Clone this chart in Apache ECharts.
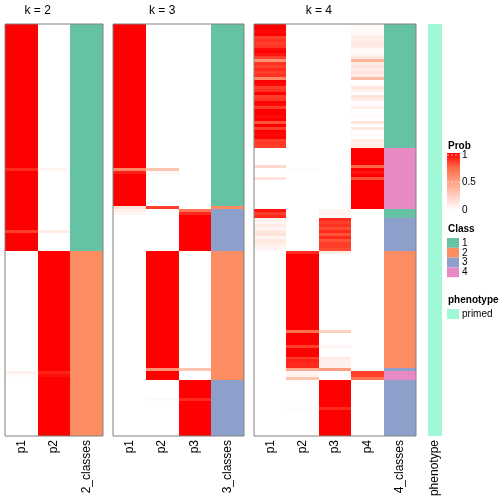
<!DOCTYPE html>
<html><head><meta charset="utf-8">
<script src="https://cdn.jsdelivr.net/npm/echarts@6/dist/echarts.min.js"></script>
<style>html,body{margin:0;padding:0;background:#fff}#c{width:504px;height:504px}</style>
</head><body><div id="c"></div><script>
// ---- data (rows top to bottom, 140 samples) ----
const k2Columns = ['p1', 'p2', '2_classes'];
const k3Columns = ['p1', 'p2', 'p3', '3_classes'];
const k4Columns = ['p1', 'p2', 'p3', 'p4', '4_classes'];
const phenoColumns = ['phenotype'];
const classLabels = ['1', '2', '3', '4'];
const probTicks = ['1', '0.5', '0'];

const k2_p1 = [
1,1,1,1,1,1,1,1,1,1,1,1,1,1,1,1,1,1,1,1,
1,1,1,1,1,1,1,1,1,1,1,1,1,1,1,1,1,1,1,1,
1,1,1,1,1,1,1,1,1,0.9,1,1,1,1,1,1,1,1,1,1,
1,1,1,1,1,1,1,1,1,1,0.85,1,1,1,1,1,1,0,0,0,
0,0,0,0,0,0,0,0,0,0,0,0,0,0,0,0,0,0,0,0,
0,0,0,0,0,0,0,0,0,0,0,0,0,0,0,0,0,0,0.06,0.03,
0,0,0,0,0,0,0,0,0,0,0,0,0,0,0,0,0,0,0,0];
const k2_p2 = [
0,0,0,0,0,0,0,0,0,0,0,0,0,0,0,0,0,0,0,0,
0,0,0,0,0,0,0,0,0,0,0,0,0,0,0,0,0,0,0,0,
0,0,0,0,0,0,0,0,0,0.05,0,0,0,0,0,0,0,0,0,0,
0,0,0,0,0,0,0,0,0,0,0.1,0,0,0,0,0,0,1,1,1,
1,1,1,1,1,1,1,1,1,1,1,1,1,1,1,1,1,1,1,1,
1,1,1,1,1,1,1,1,1,1,1,1,1,1,1,1,1,1,0.92,0.96,
1,1,1,1,1,1,1,1,1,1,1,1,1,1,1,1,1,1,1,1];
const k2_class = [
1,1,1,1,1,1,1,1,1,1,1,1,1,1,1,1,1,1,1,1,
1,1,1,1,1,1,1,1,1,1,1,1,1,1,1,1,1,1,1,1,
1,1,1,1,1,1,1,1,1,1,1,1,1,1,1,1,1,1,1,1,
1,1,1,1,1,1,1,1,1,1,1,1,1,1,1,1,1,2,2,2,
2,2,2,2,2,2,2,2,2,2,2,2,2,2,2,2,2,2,2,2,
2,2,2,2,2,2,2,2,2,2,2,2,2,2,2,2,2,2,2,2,
2,2,2,2,2,2,2,2,2,2,2,2,2,2,2,2,2,2,2,2];

const k3_p1 = [
1,1,1,1,1,1,1,1,1,1,1,1,1,1,1,1,1,1,1,1,
1,1,1,1,1,1,1,1,1,1,1,1,1,1,1,1,1,1,1,1,
1,1,1,1,1,1,1,1,1,0.6,0.92,1,1,1,1,1,1,1,1,1,
1,1,0.15,0.07,0.04,0,0,0,0,0,0,0,0,0,0,0,0,0,0,0,
0,0,0,0,0,0,0,0,0,0,0,0,0,0,0,0,0,0,0,0,
0,0,0,0,0,0,0,0,0,0,0,0,0,0,0,0,0,0,0,0,
0,0,0,0,0,0,0,0,0,0,0,0,0,0,0,0,0,0,0,0];
const k3_p2 = [
0,0,0,0,0,0,0,0,0,0,0,0,0,0,0,0,0,0,0,0,
0,0,0,0,0,0,0,0,0,0,0,0,0,0,0,0,0,0,0,0,
0,0,0,0,0,0,0,0,0,0.3,0.04,0,0,0,0,0,0,0,0,0,
0,0,0.85,0,0,0,0,0,0,0,0,0,0,0,0,0,0,1,1,1,
1,1,1,1,1,1,1,1,1,1,1,1,1,1,1,1,1,1,1,1,
1,1,1,1,1,1,1,1,1,1,1,1,1,1,1,1,1,0.55,1,1,
1,0,0,0,0,0,0,0.03,0,0,0,0,0,0,0,0,0,0,0,0];
const k3_p3 = [
0,0,0,0,0,0,0,0,0,0,0,0,0,0,0,0,0,0,0,0,
0,0,0,0,0,0,0,0,0,0,0,0,0,0,0,0,0,0,0,0,
0,0,0,0,0,0,0,0,0,0,0,0,0,0,0,0,0,0,0,0,
0,0,0,0.7,0.9,1,1,1,1,1,1,1,1,1,1,1,1,0,0,0,
0,0,0,0,0,0,0,0,0,0,0,0,0,0,0,0,0,0,0,0,
0,0,0,0,0,0,0,0,0,0,0,0,0,0,0,0,0,0.3,0,0,
0,1,1,1,1,1,1,0.9,1,1,1,1,1,1,1,1,1,1,1,1];
const k3_class = [
1,1,1,1,1,1,1,1,1,1,1,1,1,1,1,1,1,1,1,1,
1,1,1,1,1,1,1,1,1,1,1,1,1,1,1,1,1,1,1,1,
1,1,1,1,1,1,1,1,1,1,1,1,1,1,1,1,1,1,1,1,
1,1,2,3,3,3,3,3,3,3,3,3,3,3,3,3,3,2,2,2,
2,2,2,2,2,2,2,2,2,2,2,2,2,2,2,2,2,2,2,2,
2,2,2,2,2,2,2,2,2,2,2,2,2,2,2,2,2,2,2,2,
2,3,3,3,3,3,3,3,3,3,3,3,3,3,3,3,3,3,3,3];

const k4_p1 = [
1,1,0.98,1,0.85,0.88,0.85,0.87,0.97,1,0.95,0.85,0.55,0.88,0.85,0.9,0.85,0.88,0.6,1,
0.98,0.85,0.88,1,0.85,0.87,1,0.98,0.85,1,1,0.97,1,0.8,1,0.85,1,0.98,1,0.85,
0.87,0.85,0,0,0,0,0,0,0.2,0,0,0,0.15,0,0,0,0,0,0,0,
0,0,0,0.95,0.85,0.9,0.08,0.05,0.1,0.05,0.12,0.15,0.05,0.12,0.1,0.06,0.04,0,0,0,
0,0,0,0,0,0,0,0,0,0,0,0,0,0,0,0,0,0,0,0,
0,0,0,0,0,0,0,0,0,0,0,0,0,0,0,0,0,0,0,0,
0,0,0,0,0,0,0,0,0,0,0,0,0,0,0,0,0,0,0,0];
const k4_p2 = [
0,0,0,0,0,0,0,0,0,0,0,0,0,0,0,0,0,0,0,0,
0,0,0,0,0,0,0,0,0,0,0,0,0,0,0,0,0,0,0,0,
0,0,0,0,0,0,0,0,0,0.02,0,0,0,0,0,0,0,0,0,0,
0,0,0,0,0,0,0,0,0,0,0,0,0,0,0,0,0,0.9,1,1,
1,1,1,1,1,1,1,1,1,1,1,1,1,1,1,1,1,1,1,1,
1,1,1,1,0.7,1,1,1,1,0.85,1,1,1,0.85,0.92,0.9,0.9,0.45,0.05,0.08,
0.3,0,0,0,0,0,0,0,0,0,0.02,0,0,0,0,0,0,0,0,0];
const k4_p3 = [
0,0,0,0,0,0,0,0,0,0,0,0,0,0,0,0,0,0,0,0,
0,0,0,0,0,0,0,0,0,0,0,0,0,0,0,0,0,0,0,0,
0,0,0,0,0,0,0,0,0,0,0,0,0,0,0,0,0,0,0,0,
0,0,0,0.05,0.08,0.02,0.9,0.85,0.88,0.82,0.9,0.8,0.9,0.8,0.85,0.85,0.82,0.1,0,0,
0,0,0,0,0,0,0,0,0,0,0,0,0,0,0,0,0,0,0,0,
0,0,0,0,0.25,0,0,0,0,0.05,0,0,0,0.12,0.06,0.08,0.08,0.5,0,0,
0,1,1,1,1,1,1,1,1,1,0.9,1,1,1,1,1,1,1,1,1];
const k4_p4 = [
0.03,0.02,0.02,0.05,0.1,0.08,0.12,0.1,0.03,0.02,0.05,0.12,0.4,0.1,0.15,0.08,0.15,0.1,0.35,0,
0.02,0.12,0.08,0,0.15,0.1,0,0.02,0.08,0,0,0.03,0,0.15,0,0.12,0,0.02,0,0.1,
0.08,0.1,1,1,1,1,1,1,0.75,1,0.95,1,0.8,1,1,1,1,1,1,1,
1,1,1,0,0,0,0,0,0,0,0,0,0,0,0,0,0,0,0,0,
0,0,0,0,0,0,0,0,0,0,0,0,0,0,0,0,0,0,0,0,
0,0,0,0,0,0,0,0,0,0,0,0,0,0,0,0,0,0.03,0.85,0.85,
0.7,0,0,0,0,0,0,0,0,0,0,0,0,0,0,0,0,0,0,0];
const k4_class = [
1,1,1,1,1,1,1,1,1,1,1,1,1,1,1,1,1,1,1,1,
1,1,1,1,1,1,1,1,1,1,1,1,1,1,1,1,1,1,1,1,
1,1,4,4,4,4,4,4,4,4,4,4,4,4,4,4,4,4,4,4,
4,4,4,1,1,1,3,3,3,3,3,3,3,3,3,3,3,2,2,2,
2,2,2,2,2,2,2,2,2,2,2,2,2,2,2,2,2,2,2,2,
2,2,2,2,2,2,2,2,2,2,2,2,2,2,2,2,2,3,4,4,
4,3,3,3,3,3,3,3,3,3,3,3,3,3,3,3,3,3,3,3];
const phenotype = new Array(140).fill('primed');
const phenotypeLevels = ['primed'];

// ---- styles ----
const FONT = 'Liberation Sans, Arial, Helvetica, sans-serif';
const probColors = ['#FFFFFF', '#FFCFBF', '#FF9E81', '#FF6846', '#FF0000'];
const classColors = ['#66C2A5', '#FC8D62', '#8DA0CB', '#E78AC3'];
const phenoColors = ['#A0F8D6'];

const rows = k2_class.map((_, i) => String(i));
const panels = [
  { title: 'k = 2', cols: k2Columns, probs: [k2_p1, k2_p2], cls: k2_class, left: 5, width: 98 },
  { title: 'k = 3', cols: k3Columns, probs: [k3_p1, k3_p2, k3_p3], cls: k3_class, left: 113, width: 131 },
  { title: 'k = 4', cols: k4Columns, probs: [k4_p1, k4_p2, k4_p3, k4_p4], cls: k4_class, left: 254, width: 162 }
];
const TOP = 24, H = 412;

// cell renderer: snap cell edges to whole pixels so neighbouring cells meet without seams
function renderCell(params, api) {
  const c = api.coord([api.value(0), api.value(1)]);
  const s = api.size([1, 1]);
  const x0 = Math.round(c[0] - s[0] / 2), x1 = Math.round(c[0] + s[0] / 2);
  const y0 = Math.round(c[1] - s[1] / 2), y1 = Math.round(c[1] + s[1] / 2);
  return { type: 'rect', shape: { x: x0, y: y0, width: x1 - x0, height: y1 - y0 },
    style: { fill: api.visual('color') } };
}

const grid = [], xAxis = [], yAxis = [], series = [], graphic = [];
const probSeries = [], classSeries = [];
function addAxes(gi, cols) {
  xAxis.push({ type: 'category', gridIndex: gi, data: cols, position: 'bottom',
    axisLine: { show: false }, axisTick: { show: false }, splitLine: { show: false },
    axisLabel: { rotate: 90, interval: 0, margin: 4, fontSize: 12, color: '#000', fontFamily: FONT } });
  yAxis.push({ type: 'category', gridIndex: gi, data: rows, inverse: true, show: false });
}
function cellSeries(gi, data) {
  return { type: 'custom', xAxisIndex: gi, yAxisIndex: gi, data: data, silent: true,
    encode: { x: 0, y: 1 }, renderItem: renderCell };
}
panels.forEach((p, gi) => {
  grid.push({ left: p.left, top: TOP, width: p.width, height: H, show: true, z: 10,
    borderColor: '#808080', borderWidth: 1, backgroundColor: 'transparent' });
  addAxes(gi, p.cols);
  const pd = [];
  p.probs.forEach((arr, c) => arr.forEach((v, r) => pd.push([c, r, v])));
  probSeries.push(series.length);
  series.push(cellSeries(gi, pd));
  const cd = p.cls.map((v, r) => [p.probs.length, r, v]);
  classSeries.push(series.length);
  series.push(cellSeries(gi, cd));
  const cx = p.left + p.width * p.probs.length / p.cols.length / 2;
  graphic.push({ type: 'text', x: cx, y: 11, style: { text: p.title, font: '12px ' + FONT,
    fill: '#000', textAlign: 'center', textVerticalAlign: 'middle' } });
});
// phenotype column
grid.push({ left: 428, top: TOP, width: 14, height: H, show: false });
addAxes(3, phenoColumns);
const phenoSeriesIndex = series.length;
series.push(cellSeries(3, phenotype.map((v, r) => [0, r, phenotypeLevels.indexOf(v) + 1])));

// ---- legend (drawn as graphic) ----
const LX = 447;
graphic.push({ type: 'text', x: LX + 1, y: 146, style: { text: 'Prob', font: 'bold 10px ' + FONT, fill: '#000', textVerticalAlign: 'middle' } });
graphic.push({ type: 'rect', shape: { x: LX, y: 153, width: 13, height: 57 },
  style: { fill: { type: 'linear', x: 0, y: 0, x2: 0, y2: 1, colorStops: [
    { offset: 0, color: probColors[4] }, { offset: 0.25, color: probColors[3] },
    { offset: 0.5, color: probColors[2] }, { offset: 0.75, color: probColors[1] },
    { offset: 1, color: probColors[0] } ] } } });
[155, 182].forEach(y => graphic.push({ type: 'line', shape: { x1: LX, y1: y, x2: LX + 13, y2: y },
  style: { stroke: 'rgba(255,255,255,0.7)', lineWidth: 1, lineDash: [2, 2] } }));
[155, 182, 210].forEach((y, i) => graphic.push({ type: 'text', x: LX + 15, y: y,
  style: { text: probTicks[i], font: '10px ' + FONT, fill: '#000', textVerticalAlign: 'middle' } }));
graphic.push({ type: 'text', x: LX + 1, y: 229, style: { text: 'Class', font: 'bold 10px ' + FONT, fill: '#000', textVerticalAlign: 'middle' } });
classLabels.forEach((t, i) => {
  const y = 238 + i * 9.8;
  graphic.push({ type: 'rect', shape: { x: LX, y: y, width: 12, height: 9.8 }, style: { fill: classColors[i] } });
  graphic.push({ type: 'text', x: LX + 15, y: y + 5, style: { text: t, font: '10px ' + FONT, fill: '#000', textVerticalAlign: 'middle' } });
});
graphic.push({ type: 'text', x: LX + 1, y: 300, style: { text: 'phenotype', font: 'bold 10px ' + FONT, fill: '#000', textVerticalAlign: 'middle' } });
phenotypeLevels.forEach((t, i) => {
  graphic.push({ type: 'rect', shape: { x: LX, y: 309 + i * 10, width: 12, height: 10 }, style: { fill: phenoColors[i] } });
  graphic.push({ type: 'text', x: LX + 15, y: 314 + i * 10, style: { text: t, font: '10px ' + FONT, fill: '#000', textVerticalAlign: 'middle' } });
});

const chart = echarts.init(document.getElementById('c'), null, { renderer: 'canvas' });
chart.setOption({
  animation: false,
  backgroundColor: '#fff',
  grid, xAxis, yAxis, series, graphic,
  visualMap: [
    { type: 'continuous', min: 0, max: 1, dimension: 2, seriesIndex: probSeries, show: false, inRange: { color: probColors } },
    { type: 'piecewise', dimension: 2, seriesIndex: classSeries, show: false,
      pieces: classLabels.map((l, i) => ({ value: i + 1, color: classColors[i] })) },
    { type: 'piecewise', dimension: 2, seriesIndex: [phenoSeriesIndex], show: false,
      pieces: phenotypeLevels.map((l, i) => ({ value: i + 1, color: phenoColors[i] })) }
  ]
});
</script></body></html>
